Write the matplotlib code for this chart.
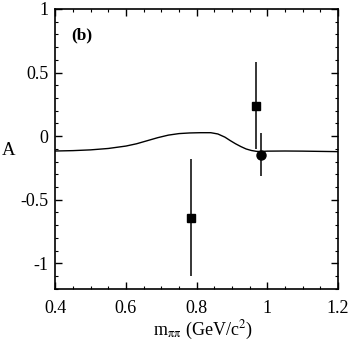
import numpy as np
import matplotlib
matplotlib.use('Agg')
import matplotlib.pyplot as plt
from matplotlib.ticker import MultipleLocator

plt.rcParams['font.family'] = ['Liberation Serif', 'DejaVu Serif']
plt.rcParams['mathtext.fontset'] = 'stix'

# fitted curve
curve_m = [0.40, 0.45, 0.50, 0.55, 0.60, 0.63, 0.66, 0.69, 0.72, 0.75, 0.78,
           0.81, 0.84, 0.86, 0.88, 0.895, 0.91, 0.925, 0.94, 0.955, 0.97,
           0.98, 1.00, 1.05, 1.10, 1.15, 1.20]
curve_a = [-0.117, -0.114, -0.108, -0.097, -0.078, -0.060, -0.036, -0.012, 0.008,
           0.020, 0.025, 0.027, 0.027, 0.017, -0.008, -0.035, -0.060, -0.082,
           -0.101, -0.113, -0.120, -0.121, -0.118, -0.117, -0.118, -0.120, -0.122]

# measured points
sq_m = [0.784, 0.968]
sq_a = [-0.64, 0.24]
sq_err = [0.46, 0.34]
circ_m = [0.982]
circ_a = [-0.145]
circ_err = [0.17]

fig = plt.figure(figsize=(3.49, 3.46), dpi=100)
ax = fig.add_axes([0.1585, 0.1656, 0.81, 0.8084])

ax.plot(curve_m, curve_a, color='black', lw=1.0)
ax.errorbar(sq_m, sq_a, yerr=sq_err, fmt='s', color='black', ms=5.8,
            elinewidth=1.1, capsize=0)
ax.errorbar(circ_m, circ_a, yerr=circ_err, fmt='o', color='black', ms=6.5,
            elinewidth=1.1, capsize=0)

ax.set_xlim(0.4, 1.2)
ax.set_ylim(-1.2, 1.0)
ax.xaxis.set_minor_locator(MultipleLocator(0.05))
ax.yaxis.set_minor_locator(MultipleLocator(0.1))
ax.set_xticks([0.4, 0.6, 0.8, 1.0, 1.2])
ax.set_xticklabels(['0.4', '0.6', '0.8', '1', '1.2'])
ax.set_yticks([-1, -0.5, 0, 0.5, 1])
ax.set_yticklabels(['-1', '-0.5', '0', '0.5', '1'])
ax.tick_params(which='both', direction='in', top=True, right=True, labelsize=13)
ax.tick_params(which='major', length=5, width=1)
ax.tick_params(axis='x', which='major', pad=8)
ax.tick_params(axis='y', which='major', pad=5)
ax.tick_params(which='minor', length=2.5, width=0.8)
for s in ax.spines.values():
    s.set_linewidth(1.2)

ax.set_xlabel(r'm$_{\mathrm{\pi\pi}}$ (GeV/c$^2$)', fontsize=13)
ax.xaxis.set_label_coords(0.522, -0.108)
ax.set_ylabel('A', fontsize=13.5, rotation=0, va='center', ha='center')
ax.yaxis.set_label_coords(-0.166, 0.495)
ax.text(0.058, 0.907, '(b)', transform=ax.transAxes, fontsize=12.5,
        fontweight='bold', va='center', ha='left')

fig.savefig('out.png', dpi=100)
